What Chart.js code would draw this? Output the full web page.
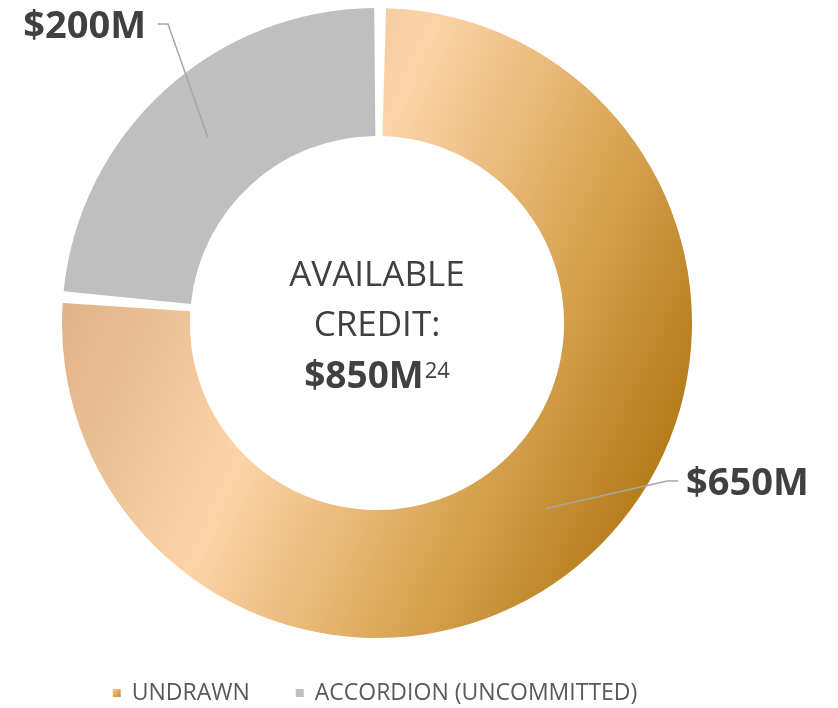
<!DOCTYPE html>
<html>
<head>
<meta charset="utf-8">
<script src="https://cdn.jsdelivr.net/npm/chart.js@4.4.1/dist/chart.umd.min.js"></script>
<style>
  html, body { margin: 0; padding: 0; background: #fff; }
</style>
</head>
<body>
<canvas id="myChart" width="838" height="708"></canvas>
<script>
// data ($M)
var categories = ['UNDRAWN', 'ACCORDION (UNCOMMITTED)'];
var amounts = [650, 200];
var valueLabels = ['$650M', '$200M'];
var centerLines = ['AVAILABLE', 'CREDIT:'];
var centerTotal = '$850M';
var centerNote = '24';

var grey = '#BFBFBF';
var textColor = '#404040';

// the gold slice: diagonal gradient, tan -> light peach -> dark gold
function undrawnFill(chart) {
  var a = chart.chartArea;
  if (!a) return '#E8B97F';
  var cx = (a.left + a.right) / 2, cy = (a.top + a.bottom) / 2;
  var ang = 24 * Math.PI / 180, ux = Math.cos(ang), uy = Math.sin(ang);
  var g = chart.ctx.createLinearGradient(cx - 320 * ux, cy - 320 * uy, cx + 340 * ux, cy + 340 * uy);
  g.addColorStop(0, '#DCAE84');
  g.addColorStop(0.38, '#FDD3A8');
  g.addColorStop(0.70, '#D9A655');
  g.addColorStop(1, '#B07612');
  return g;
}

var textPlugin = {
  id: 'textPlugin',
  afterDraw: function(chart) {
    var ctx = chart.ctx;
    var a = chart.chartArea;
    var cx = (a.left + a.right) / 2, cy = (a.top + a.bottom) / 2;
    var meta = chart.getDatasetMeta(0);

    ctx.save();
    ctx.fillStyle = textColor;
    ctx.textBaseline = 'alphabetic';

    // center text
    ctx.textAlign = 'center';
    ctx.font = '35px "Open Sans"';
    ctx.fillText(centerLines[0], cx, cy - 37);
    ctx.fillText(centerLines[1], cx, cy + 13);
    ctx.font = 'bold 37px "Open Sans"';
    var w1 = ctx.measureText(centerTotal).width;
    ctx.font = '22px "Open Sans"';
    var w2 = ctx.measureText(centerNote).width;
    var x0 = cx - (w1 + w2 + 1) / 2;
    ctx.textAlign = 'left';
    ctx.font = 'bold 37px "Open Sans"';
    ctx.fillText(centerTotal, x0, cy + 65);
    ctx.font = '22px "Open Sans"';
    ctx.fillText(centerNote, x0 + w1 + 1, cy + 55);

    // data labels with leader lines
    var p0 = meta.data[0].getCenterPoint();
    var p1 = meta.data[1].getCenterPoint();
    ctx.strokeStyle = '#A6A6A6';
    ctx.lineWidth = 1.5;
    ctx.beginPath();
    ctx.moveTo(p0.x, p0.y); ctx.lineTo(667, 481); ctx.lineTo(678, 481);
    ctx.moveTo(p1.x, p1.y); ctx.lineTo(168, 24); ctx.lineTo(158, 24);
    ctx.stroke();

    ctx.font = 'bold 38px "Open Sans"';
    ctx.textAlign = 'left';
    ctx.fillText(valueLabels[0], 686, 495);
    ctx.textAlign = 'right';
    ctx.fillText(valueLabels[1], 146, 38);

    // legend
    ctx.font = '23px "Open Sans"';
    ctx.textAlign = 'left';
    ctx.textBaseline = 'middle';
    var box = 8, boxGap = 11, itemGap = 46;
    var widths = categories.map(function(c) { return ctx.measureText(c).width; });
    var total = 0;
    widths.forEach(function(w, i) { total += box + boxGap + w + (i ? itemGap : 0); });
    var lx = 375 - total / 2, ly = 693;
    categories.forEach(function(c, i) {
      if (i === 0) {
        var g = ctx.createLinearGradient(lx, ly - 4, lx + box, ly + 4);
        g.addColorStop(0, '#F6C994');
        g.addColorStop(1, '#C48B32');
        ctx.fillStyle = g;
      } else {
        ctx.fillStyle = grey;
      }
      ctx.fillRect(lx, ly - box / 2, box, box);
      ctx.fillStyle = '#595959';
      ctx.fillText(c, lx + box + boxGap, ly);
      lx += box + boxGap + widths[i] + itemGap;
    });
    ctx.restore();
  }
};

var ctx = document.getElementById('myChart');
var myChart = new Chart(ctx, {
  type: 'doughnut',
  data: {
    labels: categories,
    datasets: [{
      data: amounts,
      backgroundColor: function(c) {
        return c.dataIndex === 0 ? undrawnFill(c.chart) : grey;
      },
      borderWidth: 0,
      spacing: 6
    }]
  },
  options: {
    responsive: false,
    animation: false,
    cutout: '59%',
    layout: { padding: { left: 62, right: 146, top: 8, bottom: 70 } },
    plugins: {
      legend: { display: false },
      tooltip: { enabled: false }
    }
  },
  plugins: [textPlugin]
});
</script>
</body>
</html>
